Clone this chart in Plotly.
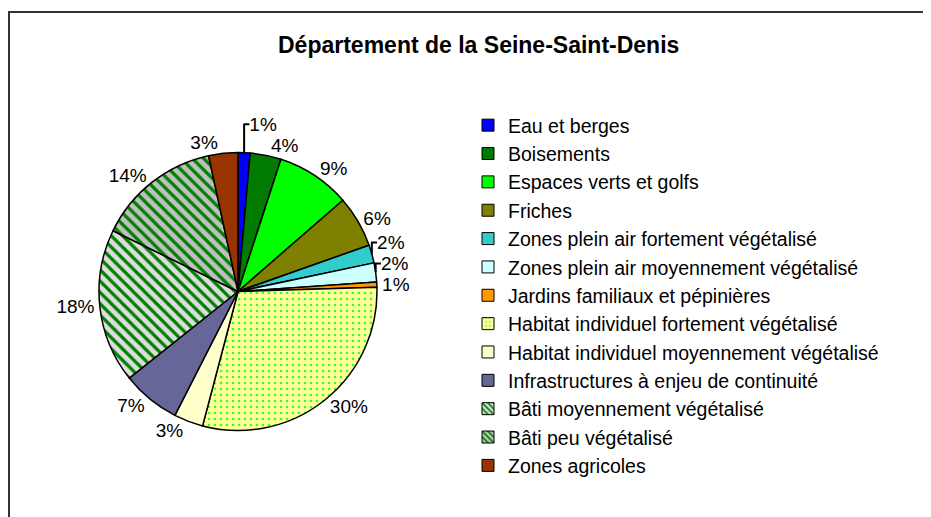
import plotly.graph_objects as go

title = "Département de la Seine-Saint-Denis"
categories = [
    "Eau et berges",
    "Boisements",
    "Espaces verts et golfs",
    "Friches",
    "Zones plein air fortement végétalisé",
    "Zones plein air moyennement végétalisé",
    "Jardins familiaux et pépinières",
    "Habitat individuel fortement végétalisé",
    "Habitat individuel moyennement végétalisé",
    "Infrastructures à enjeu de continuité",
    "Bâti moyennement végétalisé",
    "Bâti peu végétalisé",
    "Zones agricoles",
]
values = [1.4, 3.6, 8.6, 6.0, 2.1, 2.2, 0.6, 29.6, 3.4, 6.8, 17.9, 14.4, 3.4]

colors = ["#0000FF", "#007A00", "#00FF00", "#808000", "#33CCCC", "#CCFFFF",
          "#FF9900", "#FFFF99", "#FFFFCC", "#666699", "#DDDDDD", "#C0C0C0", "#993300"]
pat_shape = ["", "", "", "", "", "", "", ".", "", "", "\\", "\\", ""]
pat_fg = ["#000", "#000", "#000", "#000", "#000", "#000", "#000", "#33FF33", "#000",
          "#000", "#008000", "#008000", "#000"]
pat_size = [8, 8, 8, 8, 8, 8, 8, 6, 8, 8, 8, 8, 8]
pat_sol = [0.3, 0.3, 0.3, 0.3, 0.3, 0.3, 0.3, 0.15, 0.3, 0.3, 0.4, 0.4, 0.3]

W, H = 931, 517
OFF = 8  # page body margin
FONT = "Liberation Sans, Arial, sans-serif"


def px(x):
    return (x - OFF) / W


def py(y):
    return 1 - (y - OFF) / H


fig = go.Figure()

cx, cy, r = 238, 291.5, 139
fig.add_trace(go.Pie(
    labels=categories, values=values, sort=False, direction="clockwise", rotation=0,
    marker=dict(colors=colors, line=dict(color="black", width=1.5),
                pattern=dict(shape=pat_shape, fgcolor=pat_fg, size=pat_size,
                             solidity=pat_sol, fillmode="overlay", fgopacity=1)),
    textinfo="percent", texttemplate="%{percent:.0%}", textposition="outside",
    textfont=dict(family=FONT, size=19, color="black"),
    showlegend=False, hoverinfo="label+percent",
    domain=dict(x=[px(cx - r), px(cx + r)], y=[py(cy + r), py(cy - r)]),
))

for i, c in enumerate(categories):
    fig.add_trace(go.Bar(
        x=[None], y=[None], name=c, legendgroup=str(i), showlegend=True,
        marker=dict(color=colors[i], line=dict(color="black", width=1),
                    pattern=dict(shape=pat_shape[i], fgcolor=pat_fg[i], size=5,
                                 solidity=pat_sol[i], fillmode="overlay", fgopacity=1)),
    ))

fig.update_layout(
    width=W, height=H,
    margin=dict(l=0, r=0, t=0, b=0),
    paper_bgcolor="white", plot_bgcolor="white",
    xaxis=dict(visible=False), yaxis=dict(visible=False),
    annotations=[dict(text="<b>" + title + "</b>", x=px(478), y=py(45),
                      xanchor="center", yanchor="middle",
                      xref="paper", yref="paper", showarrow=False,
                      font=dict(family=FONT, size=23, color="black"))],
    legend=dict(x=px(468), xanchor="left", y=py(106), yanchor="top",
                font=dict(family=FONT, size=19.5, color="black"),
                tracegroupgap=0, bgcolor="rgba(0,0,0,0)"),
    shapes=[dict(type="rect", xref="paper", yref="paper", x0=1 / W, x1=1.05,
                 y0=-0.05, y1=py(12), line=dict(color="#333333", width=2))],
)

fig.write_html("out.html")
